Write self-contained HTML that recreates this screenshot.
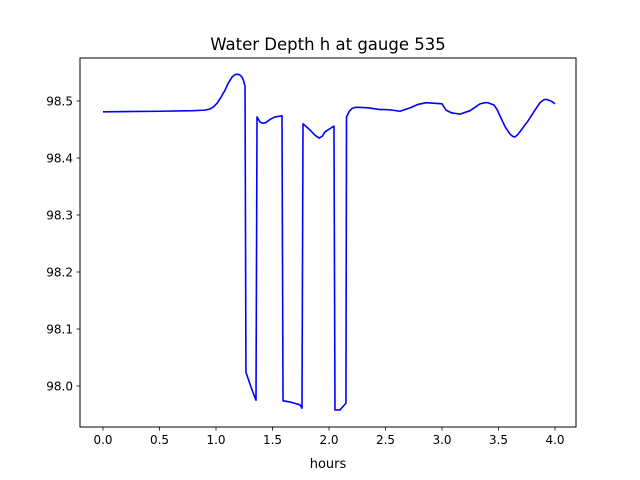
<!DOCTYPE html>
<html><head><meta charset="utf-8"><style>
html,body{margin:0;padding:0;background:#fff;}
svg{display:block;font-family:"DejaVu Sans","Liberation Sans",sans-serif;}
</style></head><body>
<svg id="chart" width="640" height="480">
<text x="328" y="50" font-size="16.5" text-anchor="middle">Water Depth h at gauge 535</text>
<g id="axes"></g>
<text x="328" y="468" font-size="13" text-anchor="middle">hours</text>
</svg>
<script>
const hours = [0,0.5,0.8,0.9,0.947,0.98,1.009,1.045,1.08,1.11,1.142,1.165,1.186,1.21,1.23,1.245,1.257,1.265,1.319,1.354,1.363,1.39,1.416,1.44,1.46,1.49,1.522,1.584,1.593,1.655,1.743,1.761,1.77,1.8,1.832,1.876,1.912,1.94,1.965,2.044,2.053,2.097,2.15,2.155,2.18,2.204,2.239,2.257,2.345,2.451,2.5,2.558,2.628,2.717,2.788,2.858,2.938,3.0,3.035,3.088,3.159,3.248,3.3,3.336,3.38,3.407,3.46,3.49,3.513,3.558,3.602,3.625,3.646,3.67,3.69,3.761,3.823,3.867,3.9,3.92,3.95,3.973,4.0];
const depth = [98.481,98.482,98.483,98.484,98.486,98.49,98.496,98.507,98.519,98.532,98.542,98.546,98.547,98.546,98.542,98.535,98.526,98.024,97.993,97.975,98.472,98.463,98.461,98.462,98.465,98.469,98.472,98.474,97.974,97.972,97.967,97.961,98.46,98.455,98.449,98.44,98.435,98.438,98.446,98.456,97.958,97.958,97.97,98.472,98.482,98.487,98.489,98.489,98.488,98.485,98.485,98.484,98.482,98.488,98.494,98.497,98.496,98.495,98.484,98.479,98.477,98.483,98.49,98.495,98.497,98.497,98.493,98.484,98.474,98.455,98.442,98.438,98.437,98.441,98.446,98.465,98.484,98.497,98.502,98.503,98.501,98.499,98.495];
const xTicks = [0,0.5,1.0,1.5,2.0,2.5,3.0,3.5,4.0];
const yTicks = [98.0,98.1,98.2,98.3,98.4,98.5];
const L=80,R=576,T=58,B=427;
function xs(t){return 103+(t-0)*(555-103)/4;}
function ys(v){return 386-(v-98.0)*(386-101)/0.5;}
const NS="http://www.w3.org/2000/svg";
const g=document.getElementById('axes');
function mk(tag,attrs){const e=document.createElementNS(NS,tag);for(const k in attrs)e.setAttribute(k,attrs[k]);g.appendChild(e);return e;}
const d=hours.map((t,i)=>(i?'L':'M')+xs(t).toFixed(2)+','+ys(depth[i]).toFixed(2)).join('');
const line=mk('path',{d:d,fill:'none',stroke:'#0000ff','stroke-width':1.6,'stroke-linejoin':'round'});


const frame=mk('rect',{x:L,y:T,width:R-L,height:B-T,fill:'none',stroke:'#000','stroke-width':1});


xTicks.forEach(t=>{
  const x=xs(t);
  const tk=mk('line',{x1:x,x2:x,y1:B,y2:B+3.5,stroke:'#000','stroke-width':0.8});
  
  
  const tx=mk('text',{x:x,y:B+17,'font-size':12,'text-anchor':'middle'});
  tx.textContent=t.toFixed(1);
  
  
});
yTicks.forEach(v=>{
  const y=ys(v);
  const tk=mk('line',{x1:L-3.5,x2:L,y1:y,y2:y,stroke:'#000','stroke-width':0.8});
  
  
  const tx=mk('text',{x:L-7,y:y+4.5,'font-size':12,'text-anchor':'end'});
  tx.textContent=v.toFixed(1);
  
  
});
</script>
</body></html>
